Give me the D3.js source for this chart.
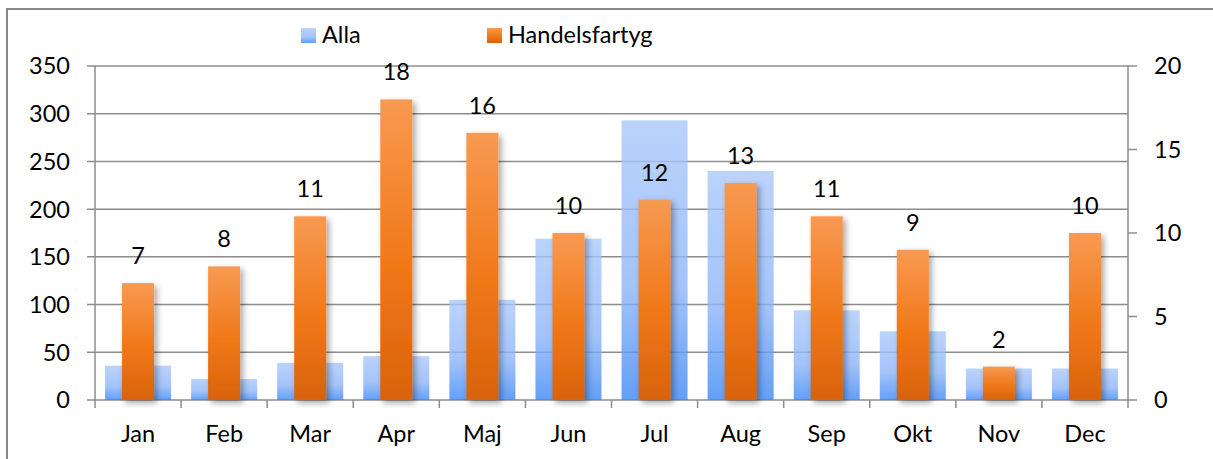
<!DOCTYPE html>
<html>
<head>
<meta charset="utf-8">
<script src="https://cdn.jsdelivr.net/npm/d3@7"></script>
<style>
    body { margin: 0; background: #fff; }
    svg { display: block; font-family: Lato, "Open Sans", sans-serif; }
    .tick-label { font-size: 23.5px; fill: #000; }
</style>
</head>
<body>
<div id="chart"></div>
<script>
const months = ['Jan', 'Feb', 'Mar', 'Apr', 'Maj', 'Jun', 'Jul', 'Aug', 'Sep', 'Okt', 'Nov', 'Dec']
const alla = [36, 22, 39, 46, 105, 169, 293, 240, 94, 72, 33, 33]
const handelsfartyg = [7, 8, 11, 18, 16, 10, 12, 13, 11, 9, 2, 10]
const leftTicks = [0, 50, 100, 150, 200, 250, 300, 350]
const rightTicks = [0, 5, 10, 15, 20]
const seriesNames = ['Alla', 'Handelsfartyg']

const width = 1213
const height = 459
const plot = { left: 95, right: 1128, top: 66, bottom: 400 }
const gridColor = '#8c8c8c'

const svg = d3.select('#chart').append('svg')
    .attr('width', width).attr('height', height)
    .attr('xmlns', 'http://www.w3.org/2000/svg')

const defs = svg.append('defs')
const blueGrad = defs.append('linearGradient').attr('id', 'blueGrad')
    .attr('x1', 0).attr('y1', 0).attr('x2', 0).attr('y2', 1)
blueGrad.append('stop').attr('offset', '0%').attr('stop-color', 'rgb(170,200,250)')
blueGrad.append('stop').attr('offset', '60%').attr('stop-color', 'rgb(140,180,248)')
blueGrad.append('stop').attr('offset', '100%').attr('stop-color', 'rgb(60,135,245)')
const orangeGrad = defs.append('linearGradient').attr('id', 'orangeGrad')
    .attr('x1', 0).attr('y1', 0).attr('x2', 0).attr('y2', 1)
orangeGrad.append('stop').attr('offset', '0%').attr('stop-color', '#f89a52')
orangeGrad.append('stop').attr('offset', '55%').attr('stop-color', '#f07818')
orangeGrad.append('stop').attr('offset', '100%').attr('stop-color', '#d8630c')
const shadow = defs.append('filter').attr('id', 'shadow')
    .attr('x', '-20%').attr('y', '-10%').attr('width', '150%').attr('height', '130%')
shadow.append('feDropShadow').attr('dx', 3).attr('dy', 3).attr('stdDeviation', 3)
    .attr('flood-color', '#000').attr('flood-opacity', 0.35)

// frame of the chart area, bottom and right sides fall outside the picture
svg.append('path')
    .attr('d', `M7,${height + 5} L7,9 L${width + 5},9`)
    .attr('fill', 'none').attr('stroke', '#8a8a8a').attr('stroke-width', 2)

const x = d3.scaleBand().domain(months).range([plot.left, plot.right]).paddingInner(0).paddingOuter(0)
const yLeft = d3.scaleLinear().domain([0, 350]).range([plot.bottom, plot.top])
const yRight = d3.scaleLinear().domain([0, 20]).range([plot.bottom, plot.top])

// gridlines + left ticks
svg.append('g').selectAll('line').data(leftTicks).enter().append('line')
    .attr('x1', plot.left - 8).attr('x2', plot.right)
    .attr('y1', d => yLeft(d)).attr('y2', d => yLeft(d))
    .attr('stroke', gridColor).attr('stroke-width', 1.5)

svg.append('g').selectAll('text').data(leftTicks).enter().append('text')
    .attr('class', 'tick-label')
    .attr('x', 70).attr('y', d => yLeft(d))
    .attr('dy', '0.36em').attr('text-anchor', 'end')
    .text(d => d)

// blue bars (Alla), slightly see-through so the gridlines show
const blueW = x.bandwidth() * 0.767
svg.append('g').selectAll('rect').data(alla).enter().append('rect')
    .attr('x', (d, i) => x(months[i]) + (x.bandwidth() - blueW) / 2)
    .attr('y', d => yLeft(d))
    .attr('width', blueW)
    .attr('height', d => yLeft(0) - yLeft(d))
    .attr('fill', 'url(#blueGrad)').attr('fill-opacity', 0.8)

// orange bars (Handelsfartyg) on right axis
const orangeW = x.bandwidth() * 0.372
svg.append('g').selectAll('rect').data(handelsfartyg).enter().append('rect')
    .attr('x', (d, i) => x(months[i]) + (x.bandwidth() - orangeW) / 2)
    .attr('y', d => yRight(d))
    .attr('width', orangeW)
    .attr('height', d => yRight(0) - yRight(d))
    .attr('fill', 'url(#orangeGrad)')
    .attr('filter', 'url(#shadow)')

svg.append('g').selectAll('text').data(handelsfartyg).enter().append('text')
    .attr('class', 'tick-label')
    .attr('x', (d, i) => x(months[i]) + x.bandwidth() / 2)
    .attr('y', d => yRight(d) - 19)
    .attr('text-anchor', 'middle')
    .text(d => d)

// axes lines
svg.append('line')
    .attr('x1', plot.left).attr('x2', plot.left)
    .attr('y1', plot.top).attr('y2', plot.bottom + 8)
    .attr('stroke', gridColor).attr('stroke-width', 1.5)
svg.append('line')
    .attr('x1', plot.right).attr('x2', plot.right)
    .attr('y1', plot.top).attr('y2', plot.bottom + 8)
    .attr('stroke', gridColor).attr('stroke-width', 1.5)

svg.append('g').selectAll('line').data(rightTicks).enter().append('line')
    .attr('x1', plot.right).attr('x2', plot.right + 9)
    .attr('y1', d => yRight(d)).attr('y2', d => yRight(d))
    .attr('stroke', gridColor).attr('stroke-width', 1.5)

svg.append('g').selectAll('text').data(rightTicks).enter().append('text')
    .attr('class', 'tick-label')
    .attr('x', 1154).attr('y', d => yRight(d))
    .attr('dy', '0.36em')
    .text(d => d)

// category ticks on x axis
svg.append('g').selectAll('line').data(months.slice(1)).enter().append('line')
    .attr('x1', d => x(d)).attr('x2', d => x(d))
    .attr('y1', plot.bottom).attr('y2', plot.bottom + 8)
    .attr('stroke', gridColor).attr('stroke-width', 1.5)

svg.append('g').selectAll('text').data(months).enter().append('text')
    .attr('class', 'tick-label')
    .attr('x', d => x(d) + x.bandwidth() / 2)
    .attr('y', 442)
    .attr('text-anchor', 'middle')
    .text(d => d)

// legend
const legendX = [301, 487]
const legend = svg.append('g').selectAll('g').data(seriesNames).enter().append('g')
    .attr('transform', (d, i) => `translate(${legendX[i]},28)`)
legend.append('rect')
    .attr('width', 15).attr('height', 15)
    .attr('fill', (d, i) => i === 0 ? 'url(#blueGrad)' : 'url(#orangeGrad)')
    .attr('fill-opacity', (d, i) => i === 0 ? 0.8 : 1)
legend.append('text')
    .attr('class', 'tick-label')
    .attr('x', 21).attr('y', 15)
    .text(d => d)
</script>
</body>
</html>
